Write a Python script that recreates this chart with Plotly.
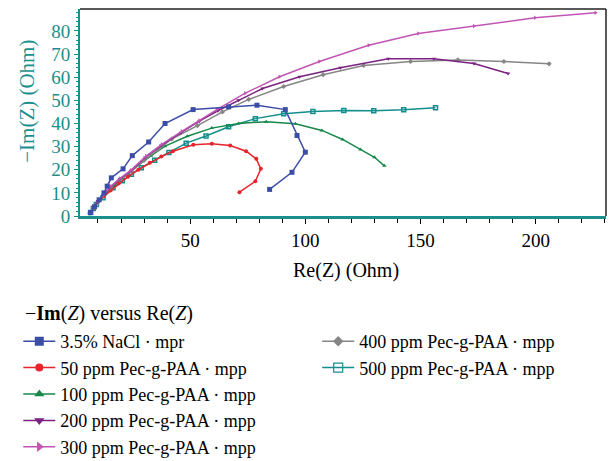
import plotly.graph_objects as go

# ---------------- data ----------------
names = ["3.5% NaCl · mpr", "50 ppm Pec-g-PAA · mpp", "100 ppm Pec-g-PAA · mpp",
         "200 ppm Pec-g-PAA · mpp", "300 ppm Pec-g-PAA · mpp",
         "400 ppm Pec-g-PAA · mpp", "500 ppm Pec-g-PAA · mpp"]

nacl_x = [6.8, 8.5, 10.5, 12.6, 14.0, 15.8, 20.9, 24.9, 32.0, 39.1, 51.3, 66.7, 79.0, 91.3, 96.4, 100.0, 94.2, 84.5]
nacl_y = [1.5, 4.0, 7.0, 10.0, 12.9, 16.5, 20.4, 26.1, 32.0, 40.0, 46.0, 47.2, 47.9, 46.0, 34.8, 27.6, 18.9, 11.5]

p50_x = [6.5, 8.0, 10.0, 12.5, 15.5, 19.0, 23.0, 27.5, 32.5, 37.5, 42.5, 51.4, 59.4, 67.4, 74.3, 78.7, 80.7, 78.3, 71.4]
p50_y = [1.2, 3.5, 6.0, 8.5, 11.0, 14.0, 17.0, 20.0, 23.0, 25.7, 28.0, 30.8, 31.2, 30.5, 28.0, 24.7, 20.4, 15.0, 10.3]

p100_x = [6.5, 8.0, 10.0, 12.5, 15.5, 19.0, 23.0, 27.5, 33.0, 39.1, 48.8, 59.4, 71.0, 83.0, 95.7, 107.2, 116.2, 123.9, 130.0, 134.3]
p100_y = [1.3, 3.7, 6.3, 9.0, 11.8, 15.0, 18.3, 22.0, 26.0, 30.2, 34.5, 38.0, 40.0, 40.8, 39.9, 37.0, 33.1, 28.8, 25.4, 21.7]

p200_x = [6.5, 8.0, 10.0, 12.5, 15.5, 19.5, 24.3, 30.5, 37.5, 46.0, 54.0, 62.0, 71.0, 81.4, 97.5, 115.2, 136.0, 155.8, 173.2, 188.0]
p200_y = [1.2, 3.8, 6.5, 9.5, 12.7, 16.0, 19.6, 25.3, 30.5, 36.0, 41.0, 45.5, 50.0, 55.1, 60.2, 64.1, 68.0, 68.0, 65.9, 61.6]

p300_x = [6.5, 8.0, 10.0, 12.5, 15.5, 19.5, 24.3, 30.9, 37.7, 46.4, 54.0, 61.6, 73.9, 88.8, 106.1, 127.5, 149.0, 173.2, 199.7, 226.0]
p300_y = [1.2, 3.8, 6.5, 9.5, 12.8, 16.2, 19.8, 25.9, 31.0, 36.6, 41.3, 46.0, 53.1, 60.2, 66.8, 73.8, 78.9, 82.1, 85.7, 87.9]

p400_x = [6.5, 8.0, 10.0, 12.5, 15.5, 19.5, 24.5, 30.0, 36.0, 42.0, 53.2, 64.0, 75.4, 90.6, 107.7, 125.3, 145.7, 166.2, 186.2, 205.8]
p400_y = [1.2, 3.7, 6.3, 9.3, 12.5, 15.8, 19.3, 24.0, 28.8, 33.3, 39.1, 45.0, 50.4, 56.0, 61.1, 65.1, 66.8, 67.5, 66.8, 65.8]

p500_x = [6.8, 8.0, 9.3, 12.2, 16.5, 20.6, 24.5, 28.8, 34.6, 40.8, 48.3, 56.9, 66.7, 78.3, 90.6, 103.3, 116.7, 129.7, 142.7, 156.5]
p500_y = [1.5, 3.2, 5.0, 7.9, 12.2, 15.2, 18.0, 20.9, 24.1, 27.5, 31.5, 34.6, 38.6, 42.1, 44.2, 45.2, 45.6, 45.5, 45.9, 46.8]

x_ticks = [50, 100, 150, 200]
y_ticks = [0, 10, 20, 30, 40, 50, 60, 70, 80]

# ---------------- style ----------------
series = [
    (nacl_x, nacl_y, "#3b4da6", "square", 5, 9),
    (p50_x, p50_y, "#e8232b", "circle", 4, 8),
    (p100_x, p100_y, "#17884a", "triangle-up", 4, 9),
    (p200_x, p200_y, "#7b2180", "triangle-down", 4, 9),
    (p300_x, p300_y, "#c155b4", "triangle-right", 4, 9),
    (p400_x, p400_y, "#858585", "diamond", 4, 8),
    (p500_x, p500_y, "#128f8c", "square-open", 4, 9),
]
teal = "#1a8f8c"
FONT = "Liberation Serif"

fig = go.Figure()
draw_order = [6, 2, 1, 5, 3, 4, 0]
for i in draw_order:
    xs, ys, col, sym, ms, _ = series[i]
    fig.add_trace(go.Scatter(
        x=xs, y=ys, mode="lines+markers", name=names[i], showlegend=False,
        line=dict(color=col, width=1.5),
        marker=dict(symbol=sym, size=ms, color=col,
                    line=dict(color=col, width=1.5 if sym.endswith("open") else 0)),
    ))

for i, (xs, ys, col, sym, ms, lms) in enumerate(series):
    fig.add_trace(go.Scatter(
        x=[None], y=[None], mode="lines+markers", name=names[i],
        legend="legend" if i < 5 else "legend2",
        legendgroup=f"g{i}",
        line=dict(color=col, width=1.5),
        marker=dict(symbol=sym, size=lms, color=col,
                    line=dict(color=col, width=1.2 if sym.endswith("open") else 0)),
    ))

LEG_TOP = (461 - 323) / 461
fig.update_layout(
    width=610, height=461,
    margin=dict(l=80, r=4, t=9, b=245, autoexpand=False),
    paper_bgcolor="white", plot_bgcolor="white",
    font=dict(family=FONT, size=19, color="black"),
    xaxis=dict(
        range=[2.2, 230.5], tickvals=x_ticks, ticks="outside", ticklen=5,
        tickcolor="black", tickwidth=1,
        minor=dict(dtick=10, tick0=0, ticks="outside", ticklen=4, tickcolor="black"),
        showgrid=False, zeroline=False,
        showline=True, linecolor=teal, linewidth=3,
        tickfont=dict(size=19, color="black"),
    ),
    yaxis=dict(
        range=[0, 89.5], tickvals=y_ticks, ticks="outside", ticklen=4,
        tickcolor=teal, tickwidth=1,
        minor=dict(dtick=2, ticks="outside", ticklen=2, tickcolor=teal),
        showgrid=False, zeroline=False,
        showline=True, linecolor=teal, linewidth=2,
        tickfont=dict(size=19, color=teal),
    ),
    legend=dict(
        xref="container", yref="container", x=0.03, y=LEG_TOP,
        xanchor="left", yanchor="top",
        font=dict(size=18), bgcolor="rgba(0,0,0,0)",
        traceorder="grouped", tracegroupgap=0, itemwidth=32,
    ),
    legend2=dict(
        xref="container", yref="container", x=0.52, y=LEG_TOP,
        xanchor="left", yanchor="top",
        font=dict(size=18), bgcolor="rgba(0,0,0,0)",
        traceorder="grouped", tracegroupgap=0, itemwidth=32,
    ),
    annotations=[
        dict(text="−<b>Im</b>(<i>Z</i>) versus Re(<i>Z</i>)",
             xref="paper", yref="paper", x=-0.108, y=-0.469,
             xanchor="left", yanchor="middle", showarrow=False,
             font=dict(size=20)),
        dict(text="Re(Z) (Ohm)",
             xref="paper", yref="paper", x=0.506, y=-0.261,
             xanchor="center", yanchor="middle", showarrow=False,
             font=dict(size=20)),
        dict(text="−Im(Z) (Ohm)", textangle=-90,
             xref="paper", yref="paper", x=-0.101, y=0.556,
             xanchor="center", yanchor="middle", showarrow=False,
             font=dict(size=21, color=teal)),
    ],
    shapes=[
        dict(type="line", xref="paper", yref="paper", x0=0, x1=1, y0=1, y1=1,
             line=dict(color="#222", width=1.5)),
        dict(type="line", xref="paper", yref="paper", x0=1, x1=1, y0=0, y1=1,
             line=dict(color="#222", width=1.5)),
    ],
)

fig.write_html("out.html", config={"displayModeBar": False},
               post_script="document.body.style.margin='0';")
